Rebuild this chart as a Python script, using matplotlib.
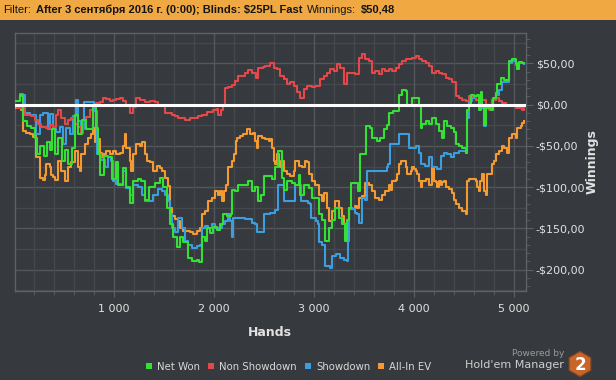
import matplotlib
matplotlib.use('Agg')
import matplotlib.pyplot as plt
from matplotlib.ticker import MultipleLocator, FuncFormatter
from matplotlib.patches import Rectangle, RegularPolygon, Circle
from matplotlib.lines import Line2D
from matplotlib.offsetbox import TextArea, HPacker, AnchoredOffsetbox

# данные: (раздачи, $)
net_won = [(10, 5), (60, 12), (80, 10), (90, -20), (130, -26), (170, -28), (210, -40), (230, -60), (260, -50),
           (300, -62), (330, -45), (360, -55), (380, -30), (410, -60), (440, -40), (480, -68), (510, -55),
           (540, -72), (580, -52), (610, -12), (640, -36), (680, -18), (720, -30), (790, -2), (820, -28),
           (840, -60), (860, -85), (900, -62), (940, -64), (980, -90), (1020, -70), (1040, -97), (1090, -77),
           (1120, -100), (1160, -119), (1190, -92), (1240, -90), (1270, -93), (1310, -115), (1350, -100),
           (1410, -95), (1460, -89), (1490, -100), (1530, -125), (1560, -145), (1590, -160), (1630, -173),
           (1660, -160), (1690, -166), (1740, -186), (1780, -189), (1830, -188), (1850, -191), (1880, -161),
           (1910, -165), (1930, -149), (1960, -156), (1990, -148), (2030, -152), (2060, -145), (2090, -133),
           (2130, -135), (2170, -133), (2180, -103), (2210, -105), (2240, -98), (2310, -97), (2340, -93),
           (2380, -105), (2410, -100), (2440, -117), (2470, -109), (2500, -86), (2540, -86), (2580, -90),
           (2610, -76), (2640, -56), (2680, -89), (2700, -104), (2730, -93), (2780, -95), (2810, -97),
           (2850, -85), (2860, -109), (2900, -97), (2950, -101), (2980, -113), (3010, -113), (3050, -133),
           (3080, -140), (3110, -165), (3150, -149), (3180, -140), (3210, -125), (3250, -137), (3280, -145),
           (3310, -165), (3330, -140), (3350, -125), (3370, -95), (3410, -95), (3440, -105), (3460, -60),
           (3500, -60), (3520, -26), (3560, -28), (3580, -40), (3630, -44), (3660, -40), (3700, -29),
           (3730, -25), (3750, -10), (3790, -8), (3820, -8), (3850, 12), (3880, 18), (3920, 17), (3930, -1),
           (3970, 0), (3980, 8), (4020, 8), (4050, -1), (4070, -28), (4080, -24), (4120, -20), (4150, -24),
           (4180, -16), (4220, -24), (4250, -32), (4280, -40), (4300, -20), (4330, -26), (4370, -28),
           (4400, -33), (4420, -48), (4450, -50), (4480, -53), (4520, -58), (4530, -7), (4550, 0), (4570, 12),
           (4600, 11), (4630, 12), (4650, -7), (4670, 16), (4680, 0), (4700, -25), (4720, -4), (4750, -4),
           (4770, -6), (4790, 8), (4820, 14), (4830, 25), (4870, 33), (4900, 30), (4930, 30), (4950, 53),
           (4980, 55), (5020, 50), (5030, 43), (5050, 52), (5080, 50), (5100, 50.48)]

non_showdown = [(10, 0), (30, -4), (110, -12), (170, -14), (210, -19), (240, -23), (270, -27), (320, -28),
                (360, -25), (390, -27), (420, -12), (440, -6), (470, -16), (510, -23), (540, -19), (570, -16),
                (610, -23), (640, -27), (670, -34), (690, -20), (720, -15), (760, -6), (790, 0), (820, 2),
                (860, 3), (890, 8), (920, 7), (960, 5), (990, 6), (1020, 7), (1060, 8), (1090, 4), (1120, -2),
                (1160, -10), (1190, -3), (1220, 8), (1260, 6), (1310, 3), (1360, 4), (1410, 3), (1440, -2),
                (1510, -10), (1580, -12), (1610, -14), (1640, -16), (1710, -19), (1760, -16), (1810, -16),
                (1840, -14), (1880, -12), (1930, -9), (1990, -6), (2030, -5), (2040, -12), (2070, -6),
                (2090, 0), (2110, 20), (2140, 22), (2180, 24), (2210, 29), (2240, 35), (2310, 39), (2340, 42),
                (2380, 38), (2420, 33), (2440, 45), (2490, 46), (2510, 47), (2560, 51), (2600, 45), (2630, 43),
                (2660, 35), (2700, 31), (2730, 25), (2760, 27), (2800, 23), (2830, 15), (2860, 8), (2900, 19),
                (2930, 23), (2980, 21), (3010, 23), (3060, 31), (3100, 35), (3130, 39), (3160, 43), (3200, 41),
                (3230, 49), (3260, 45), (3300, 25), (3330, 39), (3360, 39), (3410, 37), (3450, 57), (3480, 61),
                (3510, 55), (3550, 53), (3580, 39), (3610, 41), (3650, 37), (3680, 43), (3710, 41), (3750, 43),
                (3780, 41), (3820, 45), (3850, 49), (3880, 53), (3920, 55), (3950, 55), (3980, 57), (4020, 59),
                (4050, 55), (4080, 53), (4120, 51), (4150, 47), (4180, 39), (4220, 41), (4250, 39), (4280, 37),
                (4320, 33), (4350, 31), (4380, 27), (4420, 11), (4450, 8), (4480, 6), (4520, 5), (4550, 11),
                (4580, 11), (4620, 6), (4650, 2), (4680, 6), (4720, 0), (4750, -6), (4780, 6), (4820, 8),
                (4850, 4), (4880, 2), (4920, 0), (4950, -2), (4980, -2), (5020, -4), (5050, -4), (5080, -6),
                (5100, -4)]

showdown = [(10, 5), (60, 13), (90, 12), (110, -10), (160, -12), (190, -12), (220, -36), (260, -12), (290, -10),
            (320, -10), (340, -30), (360, -11), (390, -30), (420, -33), (460, -27), (490, -48), (520, -28),
            (560, -36), (590, -14), (620, 6), (640, -20), (670, -30), (700, 3), (740, 3), (770, 3), (800, -8),
            (830, -60), (870, -67), (910, -76), (940, -64), (970, -68), (990, -92), (1020, -96), (1070, -97),
            (1090, -80), (1120, -101), (1160, -109), (1190, -97), (1240, -100), (1280, -109), (1310, -117),
            (1360, -117), (1390, -109), (1440, -102), (1480, -105), (1510, -109), (1540, -117), (1560, -133),
            (1580, -149), (1610, -155), (1640, -137), (1680, -149), (1710, -165), (1740, -170), (1780, -174),
            (1830, -172), (1860, -170), (1880, -149), (1910, -147), (1940, -149), (1980, -145), (2010, -149),
            (2040, -149), (2080, -145), (2110, -141), (2140, -133), (2160, -141), (2180, -161), (2190, -137),
            (2240, -137), (2310, -139), (2380, -143), (2410, -145), (2430, -155), (2480, -155), (2500, -133),
            (2560, -131), (2610, -128), (2640, -97), (2680, -97), (2700, -117), (2780, -117), (2810, -97),
            (2860, -97), (2870, -117), (2940, -119), (2960, -121), (2970, -137), (3020, -141), (3040, -145),
            (3050, -167), (3080, -170), (3110, -196), (3160, -198), (3180, -183), (3220, -181), (3260, -186),
            (3300, -188), (3330, -190), (3340, -165), (3350, -127), (3410, -131), (3430, -133), (3450, -143),
            (3480, -113), (3510, -115), (3530, -80), (3580, -80), (3660, -80), (3730, -76), (3740, -72),
            (3760, -48), (3820, -48), (3850, -36), (3930, -35), (3950, -53), (4020, -50), (4050, -58),
            (4070, -72), (4110, -74), (4150, -64), (4180, -76), (4230, -78), (4270, -62), (4300, -58),
            (4330, -60), (4370, -64), (4400, -58), (4450, -56), (4520, -58), (4530, -16), (4550, 5), (4580, 8),
            (4620, 6), (4650, 0), (4680, -4), (4700, -26), (4720, -2), (4750, 0), (4780, 6), (4820, 12),
            (4850, 18), (4880, 28), (4920, 28), (4950, 50), (4980, 53), (5020, 48), (5050, 50), (5100, 49)]

allin_ev = [(10, -4), (40, 0), (70, -6), (90, -32), (120, -34), (160, -35), (190, -39), (210, -35), (220, -64),
            (260, -89), (290, -91), (310, -85), (320, -72), (360, -75), (370, -85), (390, -88), (410, -91),
            (440, -68), (470, -80), (510, -92), (520, -93), (540, -75), (570, -70), (610, -56), (640, -75),
            (660, -80), (670, -60), (710, -48), (740, -40), (770, -35), (790, -28), (810, -45), (840, -42),
            (860, -58), (880, -64), (890, -60), (920, -56), (960, -60), (990, -56), (1020, -60), (1060, -58),
            (1090, -50), (1110, -35), (1120, -52), (1160, -68), (1170, -80), (1190, -60), (1220, -48),
            (1260, -50), (1280, -45), (1310, -60), (1330, -68), (1360, -70), (1390, -80), (1430, -74),
            (1460, -77), (1480, -80), (1510, -89), (1540, -99), (1560, -125), (1580, -135), (1610, -139),
            (1640, -141), (1660, -149), (1690, -153), (1730, -153), (1760, -155), (1790, -157), (1830, -153),
            (1860, -149), (1880, -133), (1910, -129), (1940, -117), (1980, -113), (2010, -105), (2040, -109),
            (2060, -105), (2080, -117), (2100, -105), (2120, -97), (2140, -76), (2180, -68), (2200, -60),
            (2220, -44), (2230, -40), (2260, -38), (2290, -36), (2330, -30), (2360, -36), (2390, -34),
            (2410, -44), (2430, -52), (2440, -38), (2480, -40), (2510, -42), (2550, -44), (2560, -42),
            (2580, -52), (2600, -68), (2610, -72), (2630, -60), (2650, -68), (2660, -76), (2680, -68),
            (2700, -80), (2730, -84), (2760, -86), (2800, -80), (2810, -68), (2850, -74), (2880, -76),
            (2910, -68), (2930, -70), (2950, -84), (2980, -92), (3010, -97), (3050, -109), (3080, -117),
            (3100, -107), (3130, -125), (3150, -141), (3180, -129), (3210, -117), (3250, -125), (3280, -135),
            (3300, -145), (3330, -141), (3350, -125), (3380, -127), (3410, -123), (3430, -125), (3450, -113),
            (3480, -111), (3510, -95), (3550, -97), (3580, -105), (3610, -113), (3650, -115), (3680, -109),
            (3710, -105), (3750, -97), (3770, -104), (3780, -93), (3820, -91), (3830, -84), (3850, -72),
            (3870, -68), (3880, -68), (3920, -76), (3930, -84), (3950, -84), (3970, -80), (3980, -76),
            (4000, -78), (4020, -80), (4030, -84), (4050, -92), (4070, -100), (4080, -92), (4120, -90),
            (4150, -97), (4180, -76), (4200, -92), (4220, -94), (4230, -100), (4250, -92), (4270, -98),
            (4280, -94), (4300, -92), (4320, -100), (4350, -102), (4380, -107), (4400, -115), (4420, -121),
            (4450, -125), (4480, -129), (4520, -133), (4530, -92), (4550, -90), (4580, -90), (4620, -92),
            (4630, -100), (4650, -105), (4660, -92), (4680, -84), (4700, -105), (4720, -109), (4730, -84),
            (4750, -84), (4780, -72), (4800, -68), (4820, -60), (4850, -56), (4880, -50), (4900, -52),
            (4930, -58), (4950, -40), (4980, -36), (5020, -40), (5030, -28), (5070, -26), (5080, -22),
            (5100, -20)]

series_names = ['Net Won', 'Non Showdown', 'Showdown', 'All-In EV']
series_colors = ['#34e034', '#e4484a', '#3a9ee0', '#f39a32']

BG = '#36393d'
GRID = '#45484c'
GRID_MAJOR = '#54575b'
SPINE = '#5e6165'
TXT = '#e2e2e2'

fig = plt.figure(figsize=(6.16, 3.80), dpi=100, facecolor=BG)

# верхняя оранжевая полоса с фильтром
fig.patches.append(Rectangle((0, 1 - 20 / 380), 1, 20 / 380, transform=fig.transFigure,
                             facecolor='#f0a843', edgecolor='none'))
parts = [('Filter:', 'normal'), ('After 3 сентября 2016 г. (0:00); Blinds: $25PL Fast', 'bold'),
         ('Winnings:', 'normal'), ('$50,48', 'bold')]
boxes = [TextArea(t, textprops=dict(fontsize=8, weight=w, color='#151515', family='Liberation Sans'))
         for t, w in parts]
packer = HPacker(children=boxes, align='center', pad=0, sep=3.5)
ab = AnchoredOffsetbox(loc='center left', child=packer, frameon=False, pad=0,
                       bbox_to_anchor=(3 / 616, 1 - 10 / 380), bbox_transform=fig.transFigure, borderpad=0)
fig.add_artist(ab)

# значок "?"
qax = fig.add_axes([597 / 616, 1 - 18 / 380, 16 / 616, 16 / 380])
qax.set_xlim(0, 16)
qax.set_ylim(0, 16)
qax.axis('off')
qax.add_patch(Circle((8, 8.5), 7, facecolor='#2a6fc2', edgecolor='#e3ecf6', lw=0.8))
qax.text(8, 8.2, '?', ha='center', va='center', fontsize=7, weight='bold', color='white')

ax = fig.add_axes([15 / 616, 1 - 291 / 380, 511 / 616, 258 / 380])
ax.set_facecolor(BG)
ax.set_xlim(10, 5120)
ax.set_ylim(-226, 87)

# сетка
for v in range(-225, 87, 25):
    ax.axhline(v, color=GRID_MAJOR if v % 50 == 0 else GRID, lw=1, zorder=0)
ax.xaxis.set_major_locator(MultipleLocator(1000))
ax.xaxis.set_minor_locator(MultipleLocator(200))
ax.grid(axis='x', which='minor', color=GRID, lw=1, zorder=0)
ax.grid(axis='x', which='major', color=GRID_MAJOR, lw=1, zorder=0)
ax.set_axisbelow(True)

series = [allin_ev, showdown, non_showdown, net_won]
order = [3, 2, 1, 0]
for data, idx in zip(series, order):
    xs = [p[0] for p in data]
    ys = [p[1] for p in data]
    ax.plot(xs, ys, color=series_colors[idx], lw=1.5, zorder=3, drawstyle='steps-post')

ax.axhline(0, color='white', lw=2.2, zorder=5)

for s in ax.spines.values():
    s.set_color(SPINE)
    s.set_linewidth(1)

ax.yaxis.tick_right()
ax.yaxis.set_label_position('right')
ax.yaxis.set_major_locator(MultipleLocator(50))
ax.yaxis.set_minor_locator(MultipleLocator(10))


def money(v, pos):
    s = '%.2f' % abs(v)
    return ('-' if v < 0 else '') + '$' + s.replace('.', ',')


ax.yaxis.set_major_formatter(FuncFormatter(money))
ax.xaxis.set_major_formatter(FuncFormatter(lambda v, p: '{:,}'.format(int(v)).replace(',', ' ')))
ax.tick_params(which='both', color=SPINE, labelcolor=TXT, labelsize=8)
ax.tick_params(axis='y', which='major', length=5, pad=2)
ax.tick_params(axis='y', which='minor', length=3)
ax.tick_params(axis='x', which='major', length=4, pad=5)
ax.tick_params(axis='x', which='minor', length=3)

ax.set_xlabel('Hands', fontsize=9, weight='bold', color=TXT)
ax.xaxis.set_label_coords(0.499, -0.135)
ax.set_ylabel('Winnings', fontsize=9, weight='bold', color=TXT, va='center', rotation=90)
ax.yaxis.set_label_coords(1.13, 0.5)

handles = [Line2D([], [], ls='none', marker='s', markersize=4.5, color=series_colors[i], markeredgewidth=0)
           for i in range(4)]
fig.legend(handles, series_names, loc='center', bbox_to_anchor=(0.4685, 1 - 367 / 380), ncol=4,
           frameon=False, fontsize=7.3, labelcolor='#d8d8d8', handlelength=0.6, handletextpad=0.5,
           columnspacing=0.8, borderpad=0)

# логотип
fig.text(564 / 616, 1 - 354 / 380, 'Powered by', ha='right', va='center', fontsize=6.5, color='#9a9a9a')
fig.text(564 / 616, 1 - 364.5 / 380, "Hold'em Manager", ha='right', va='center', fontsize=8, color='#cfcfcf')
lax = fig.add_axes([566 / 616, 1 - 378 / 380, 28 / 616, 28 / 380])
lax.set_xlim(0, 28)
lax.set_ylim(0, 28)
lax.axis('off')
lax.add_patch(RegularPolygon((14, 14), 6, radius=12.5, orientation=0, facecolor='#c8652a',
                             edgecolor='#8a4a22', lw=0.8))
lax.text(14, 13.5, '2', ha='center', va='center', fontsize=12, weight='bold', color='white')

fig.savefig('out.png', dpi=100, facecolor=BG)
